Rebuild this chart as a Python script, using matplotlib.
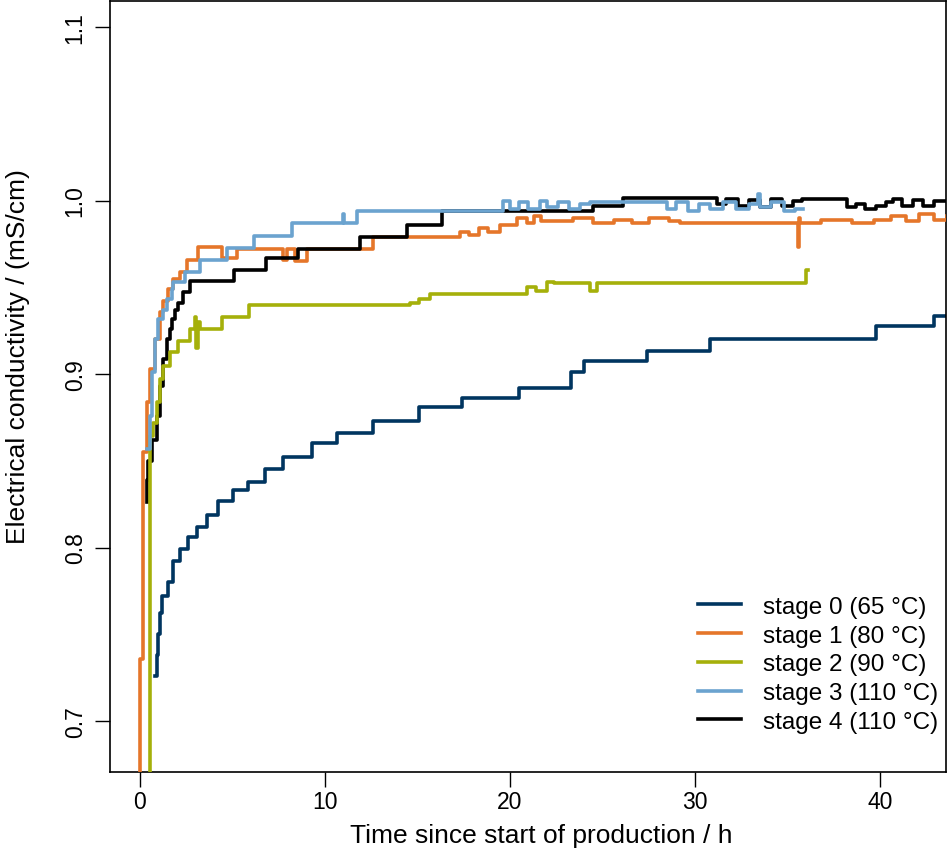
import numpy as np
import matplotlib
matplotlib.use("Agg")
import matplotlib.pyplot as plt

plt.rcParams['font.family'] = ['Liberation Sans', 'DejaVu Sans']

labels = ['stage 0 (65 °C)', 'stage 1 (80 °C)', 'stage 2 (90 °C)',
          'stage 3 (110 °C)', 'stage 4 (110 °C)']
colors = ['#003560', '#E5762A', '#A5B00A', '#6BA3CF', '#000000']

# stage 0: times (h) where the level changes, and the level from there on
t0 = [0.81, 0.9, 1.0, 1.1, 1.19, 1.51, 1.78, 2.16, 2.59, 3.08, 3.62, 4.22,
      5.03, 5.84, 6.76, 7.73, 9.30, 10.65, 12.59, 15.1, 17.4, 20.5, 23.3,
      24.0, 27.4, 30.8, 39.8, 42.9, 43.6]
v0 = [0.726, 0.738, 0.750, 0.762, 0.772, 0.780, 0.792, 0.799, 0.806, 0.812,
      0.819, 0.827, 0.833, 0.838, 0.845, 0.852, 0.860, 0.866, 0.873, 0.881,
      0.886, 0.892, 0.901, 0.9075, 0.913, 0.920, 0.9277, 0.9334, 0.9334]

# stage 1
t1 = [0.0, 0.0, 0.15, 0.36, 0.54, 0.81, 1.08, 1.26, 1.53, 1.80, 2.16, 2.52,
      3.15, 4.42, 5.23, 7.75, 7.93, 8.38, 9.01, 12.6, 17.3, 17.8, 18.3, 18.8,
      19.46, 20.4, 20.9, 21.3, 21.7, 22.3, 23.4, 24.5, 25.6, 26.6, 27.5, 28.6,
      29.2, 35.55, 35.62, 35.7, 36.8, 38.5, 39.7, 40.6, 41.4, 42.1, 42.9, 43.6]
v1 = [0.60, 0.736, 0.855, 0.884, 0.903, 0.920, 0.9355, 0.942, 0.949, 0.9545,
      0.959, 0.966, 0.973, 0.967, 0.972, 0.966, 0.972, 0.965, 0.972, 0.979,
      0.982, 0.980, 0.984, 0.982, 0.986, 0.990, 0.987, 0.991, 0.988, 0.988,
      0.990, 0.987, 0.989, 0.987, 0.990, 0.988, 0.987, 0.973, 0.990, 0.987,
      0.989, 0.987, 0.989, 0.991, 0.988, 0.992, 0.989, 0.991]

# stage 2
t2 = [0.54, 0.54, 0.72, 0.90, 1.08, 1.26, 1.62, 2.07, 2.70, 2.95, 3.05, 3.15,
      3.25, 4.45, 5.9, 14.6, 15.1, 15.7, 20.9, 21.4, 22.0, 22.4, 24.3, 24.7,
      36.0, 36.1]
v2 = [0.60, 0.864, 0.872, 0.884, 0.897, 0.9045, 0.9125, 0.919, 0.926, 0.933,
      0.915, 0.930, 0.926, 0.933, 0.940, 0.941, 0.943, 0.946, 0.950, 0.948,
      0.953, 0.9526, 0.948, 0.9526, 0.960, 0.960]

# stage 3
t3 = [0.40, 0.54, 0.63, 0.81, 0.99, 1.26, 1.44, 1.71, 1.80, 2.43, 3.24, 4.69,
      6.16, 8.22, 10.95, 11.05, 11.73, 19.6, 20.0, 20.5, 21.0, 21.6, 22.0,
      22.6, 23.2, 23.8, 24.3, 28.5, 29.0, 29.6, 30.2, 30.8, 31.5, 32.2, 32.9,
      33.4, 33.5, 34.1, 34.8, 35.4, 35.85]
v3 = [0.857, 0.876, 0.901, 0.920, 0.9315, 0.937, 0.943, 0.949, 0.953, 0.959,
      0.966, 0.9725, 0.9795, 0.987, 0.992, 0.987, 0.9938, 0.9995, 0.995, 0.999,
      0.995, 0.9995, 0.996, 0.999, 0.995, 0.998, 0.999, 0.995, 0.999, 0.994,
      0.998, 0.995, 0.999, 0.995, 0.998, 1.0035, 0.996, 0.999, 0.994, 0.995,
      0.995]

# stage 4
t4 = [0.40, 0.40, 0.45, 0.63, 0.90, 1.08, 1.26, 1.44, 1.62, 1.71, 1.89, 2.07,
      2.34, 2.70, 5.08, 6.81, 8.54, 11.89, 14.43, 16.32, 24.5, 26.1, 31.2,
      31.7, 32.3, 32.9, 33.5, 34.1, 34.7, 35.3, 35.8, 38.2, 38.7, 39.2, 39.8,
      40.3, 40.7, 41.2, 41.8, 42.3, 42.9, 43.6]
v4 = [0.826, 0.839, 0.850, 0.862, 0.876, 0.893, 0.9085, 0.920, 0.9257, 0.9315,
      0.937, 0.941, 0.947, 0.9535, 0.960, 0.967, 0.972, 0.979, 0.986, 0.994,
      0.9967, 1.0015, 0.998, 1.001, 0.997, 1.0005, 0.996, 1.001, 0.997, 1.000,
      1.0006, 0.996, 0.998, 0.995, 0.997, 0.999, 1.001, 0.997, 1.0005, 0.997,
      1.000, 1.000]

xticks = [0, 10, 20, 30, 40]
yticks = [0.7, 0.8, 0.9, 1.0, 1.1]

fig = plt.figure(figsize=(9.48, 8.53), dpi=100)
ax = fig.add_axes([110/948, 80/853, 836/948, 771/853])

series = [(t0, v0), (t1, v1), (t2, v2), (t3, v3), (t4, v4)]
zorders = [2, 3, 5, 6, 4]
lines = []
for (t, v), c, lab, z in zip(series, colors, labels, zorders):
    ln, = ax.step(t, v, where='post', color=c, lw=2.6, label=lab, zorder=z)
    lines.append(ln)

ax.set_xlim(-1.62, 43.57)
ax.set_ylim(0.6706, 1.115)
ax.set_xticks(xticks)
ax.set_yticks(yticks)
ax.set_yticklabels(['%.1f' % y for y in yticks])
ax.tick_params(length=10.8, width=1.0, direction='out', labelsize=16.5)
ax.tick_params(axis='x', pad=2)
ax.tick_params(axis='y', pad=6, labelrotation=90)
for lbl in ax.get_yticklabels():
    lbl.set_va('center')
for s in ax.spines.values():
    s.set_linewidth(1.2)

ax.set_xlabel('Time since start of production / h', fontsize=19)
ax.set_ylabel('Electrical conductivity / (mS/cm)', fontsize=19)
ax.xaxis.set_label_coords(0.5155, -0.0817)
ax.xaxis.label.set_va('center')
ax.yaxis.set_label_coords(-0.110, 0.5396)
ax.yaxis.label.set_va('center')

leg = ax.legend(handles=lines, loc='lower right', bbox_to_anchor=(0.9904, 0.0506),
                frameon=False, fontsize=17.5, handlelength=1.75, handletextpad=0.9,
                labelspacing=0.28, borderpad=0, borderaxespad=0)
for h in leg.legend_handles:
    h.set_linewidth(2.6)

fig.savefig('out.png', dpi=100)
